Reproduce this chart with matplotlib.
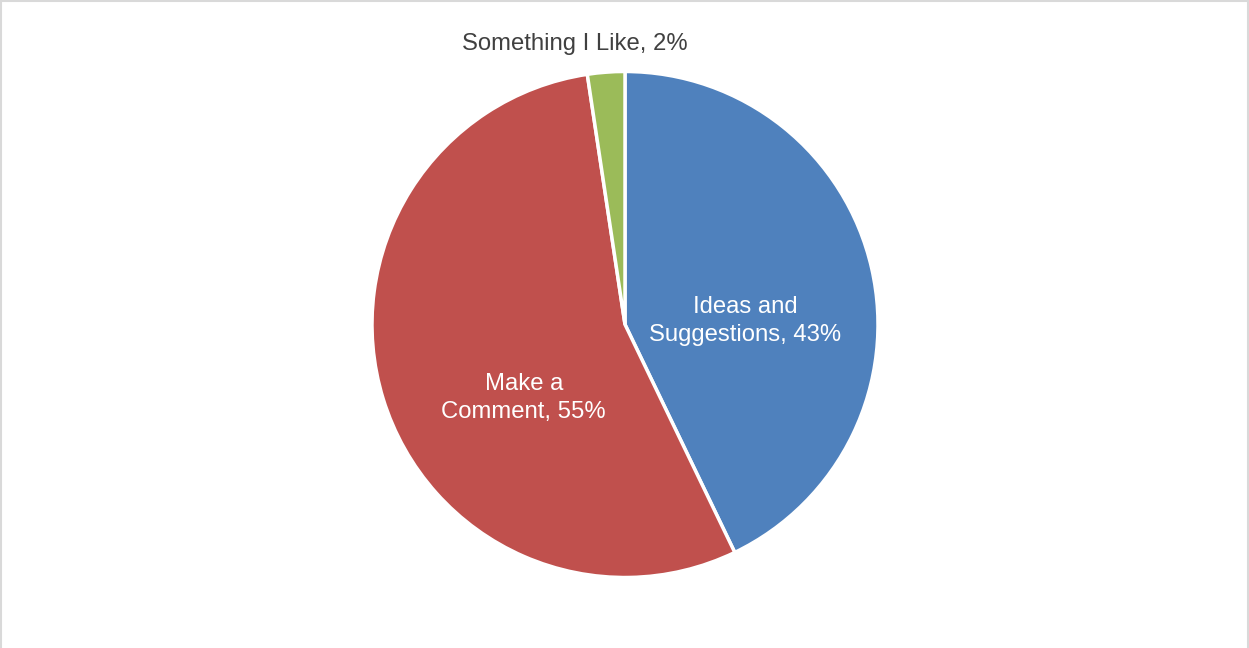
import matplotlib
matplotlib.use("Agg")
from matplotlib import pyplot as plt
from matplotlib.lines import Line2D

plt.rcParams['font.family'] = ['Liberation Sans', 'DejaVu Sans']

categories = ["Ideas and\nSuggestions", "Make a\nComment", "Something I Like"]
counts = [18, 23, 1]
colors = ["#4F81BD", "#C0504D", "#9BBB59"]

fig = plt.figure(figsize=(12.49, 6.48), dpi=100)
fig.patch.set_facecolor("white")

# pie box in pixels: x 372..878, y 71..578 (from top)
W, H = 1249, 648
ax = fig.add_axes([372 / W, (H - 578) / H, 506 / W, 507 / H])

wedges, _ = ax.pie(counts, colors=colors, startangle=90, counterclock=False,
                   radius=1, wedgeprops=dict(edgecolor="white", linewidth=2.5))
ax.set_xlim(-1, 1)
ax.set_ylim(-1, 1)
ax.set_aspect("equal")
ax.axis("off")

total = sum(counts)
pcts = [round(100 * c / total) for c in counts]
label_pos = [(0.474, 0.012), (-0.40, -0.292), (-0.198, 1.11)]
label_col = ["white", "white", "#404040"]
for name, p, pos, col in zip(categories, pcts, label_pos, label_col):
    ax.text(pos[0], pos[1], "%s, %d%%" % (name, p), ha="center", va="center",
            fontsize=17.2, color=col, linespacing=1.35, clip_on=False)

# thin grey frame like the chart area border
border = "#D9D9D9"
fig.add_artist(Line2D([0.5 / W, 0.5 / W], [0, 1], color=border, lw=1.5, transform=fig.transFigure))
fig.add_artist(Line2D([1 - 1 / W, 1 - 1 / W], [0, 1], color=border, lw=1.5, transform=fig.transFigure))
fig.add_artist(Line2D([0, 1], [1 - 1 / H, 1 - 1 / H], color=border, lw=1.5, transform=fig.transFigure))

fig.savefig("out.png", dpi=100)
